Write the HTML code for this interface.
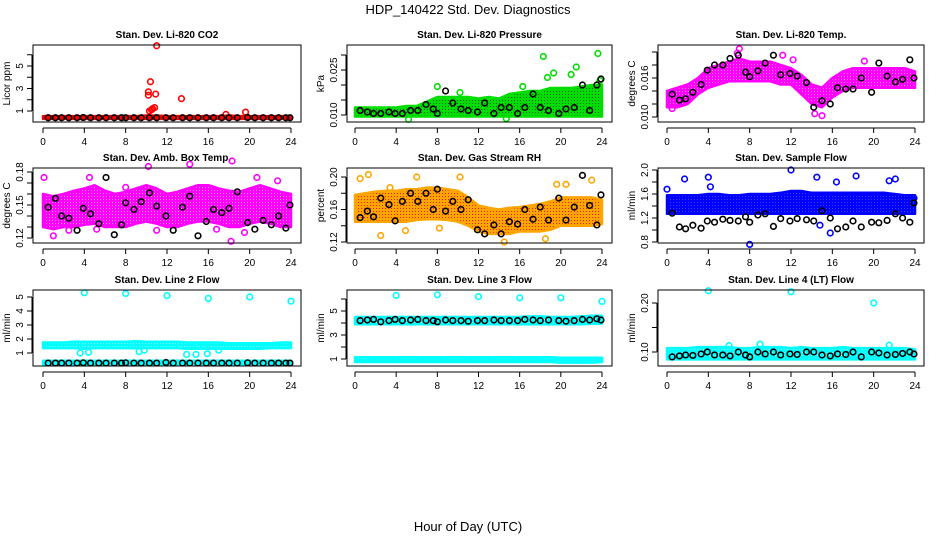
<!DOCTYPE html>
<html><head><meta charset="utf-8"><style>
html,body{margin:0;padding:0;background:#fff;}
svg{display:block;font-family:"Liberation Sans",sans-serif;}
</style></head><body>
<svg id="c" width="936" height="540" viewBox="0 0 936 540">
<text x="468" y="14" text-anchor="middle" font-size="13">HDP_140422  Std. Dev. Diagnostics</text>
<text x="468" y="531" text-anchor="middle" font-size="13">Hour of Day (UTC)</text>
</svg>
<script>
const hours=[0,1,2,3,4,5,6,7,8,9,10,11,12,13,14,15,16,17,18,19,20,21,22,23,24];
const xTicks=[0,4,8,12,16,20,24];
const blackX=[0.5,1.2,1.8,2.5,3.3,3.9,4.6,5.4,6.1,6.9,7.6,8.0,8.8,9.5,10.3,11.0,11.9,12.6,13.5,14.2,15.0,15.8,16.5,17.3,18.0,18.8,19.8,20.5,21.3,22.1,22.8,23.5,23.9];

// CO2
const co2Lo=[0.3,0.3,0.3,0.3,0.3,0.3,0.3,0.3,0.3,0.3,0.3,0.3,0.3,0.3,0.3,0.3,0.3,0.3,0.3,0.3,0.3,0.3,0.3,0.3,0.3];
const co2Hi=[0.55,0.55,0.55,0.55,0.55,0.55,0.55,0.55,0.55,0.55,0.6,0.6,0.55,0.55,0.55,0.55,0.55,0.55,0.6,0.55,0.55,0.55,0.55,0.55,0.55];
const co2OutX=[10.3,10.5,10.6,10.8,10.2,10.2,10.4,10.9,11.0,13.4,17.7,19.6];
const co2OutY=[1.0,1.1,1.2,1.3,2.4,2.7,3.6,2.5,6.8,2.1,0.7,0.9];
const co2Black=[0.4,0.4,0.4,0.4,0.4,0.42,0.4,0.4,0.4,0.4,0.4,0.4,0.4,0.4,0.4,0.4,0.4,0.4,0.4,0.4,0.4,0.4,0.4,0.4,0.4,0.4,0.42,0.4,0.4,0.4,0.4,0.4,0.4];
const co2YTicks=[1,2,3,4,5,6]; const co2YLabels=["1","","3","","5",""];

// Pressure
const prLo=[0.0095,0.0095,0.0095,0.0095,0.0095,0.0095,0.0095,0.0095,0.0095,0.0095,0.0095,0.0095,0.0095,0.0095,0.0095,0.0095,0.0095,0.0095,0.0095,0.0095,0.0095,0.0095,0.0095,0.0095,0.0095];
const prHi=[0.0125,0.0125,0.0125,0.0125,0.0125,0.013,0.013,0.0145,0.016,0.016,0.016,0.016,0.0155,0.016,0.0155,0.017,0.0175,0.018,0.018,0.019,0.019,0.019,0.0195,0.02,0.02];
const prOutX=[8,10.2,16.3,18.3,18.7,19.3,21,21.5,23.6,23.8,5.2,14.7];
const prOutY=[0.0195,0.0175,0.0195,0.0295,0.0225,0.024,0.0235,0.026,0.0305,0.0215,0.0085,0.0088];
const prBlack=[0.0115,0.011,0.0105,0.0105,0.011,0.0105,0.0105,0.0115,0.0115,0.0135,0.012,0.0105,0.018,0.014,0.012,0.0115,0.011,0.014,0.0105,0.0125,0.0125,0.0105,0.0125,0.017,0.0125,0.0115,0.0105,0.012,0.0125,0.020,0.0115,0.020,0.022];
const prYTicks=[0.010,0.015,0.020,0.025,0.030]; const prYLabels=["0.010","","","0.025",""];

// Li-820 Temp
const ltLo=[0.0115,0.0115,0.012,0.0135,0.0145,0.015,0.0155,0.0155,0.0155,0.0155,0.0155,0.015,0.015,0.0135,0.012,0.0115,0.013,0.014,0.0145,0.0145,0.0145,0.0145,0.0145,0.0145,0.0145];
const ltHi=[0.014,0.0145,0.015,0.016,0.0175,0.018,0.0185,0.019,0.0185,0.0185,0.0185,0.018,0.0175,0.0165,0.015,0.0145,0.016,0.017,0.0175,0.0175,0.0175,0.0175,0.0175,0.0175,0.017];
const ltOutX=[7,11.2,19.1,15,14.3,0.5,6.8,12.2];
const ltOutY=[0.0205,0.0195,0.0186,0.0102,0.0105,0.0113,0.0198,0.0188];
const ltBlack=[0.0135,0.0126,0.0128,0.0138,0.015,0.0172,0.018,0.018,0.019,0.0195,0.0169,0.0162,0.0171,0.0183,0.0195,0.0165,0.0167,0.0163,0.0153,0.0115,0.0125,0.012,0.0145,0.0143,0.0143,0.016,0.0138,0.0183,0.0163,0.0154,0.0158,0.0188,0.016];
const ltYTicks=[0.010,0.012,0.014,0.016,0.018,0.020]; const ltYLabels=["0.010","","","0.016","",""];

// Amb box temp
const abLo=[0.13,0.128,0.13,0.13,0.132,0.133,0.13,0.13,0.13,0.133,0.135,0.133,0.13,0.13,0.133,0.135,0.135,0.133,0.13,0.13,0.133,0.135,0.133,0.13,0.13];
const abHi=[0.16,0.158,0.16,0.163,0.165,0.168,0.163,0.16,0.162,0.165,0.168,0.165,0.16,0.162,0.165,0.168,0.168,0.165,0.163,0.162,0.165,0.168,0.165,0.162,0.16];
const abOutX=[0.1,1,4.5,5.2,10.2,11,14.2,18.3,18.2,19.5,20.7,22.7,8,2.5,16.8];
const abOutY=[0.175,0.122,0.175,0.128,0.185,0.127,0.187,0.19,0.117,0.125,0.175,0.172,0.166,0.127,0.128];
const abBlack=[0.148,0.156,0.14,0.138,0.127,0.147,0.142,0.133,0.175,0.123,0.132,0.152,0.146,0.153,0.161,0.149,0.14,0.127,0.148,0.158,0.122,0.135,0.146,0.143,0.147,0.162,0.134,0.128,0.136,0.132,0.14,0.129,0.15];
const abYTicks=[0.12,0.13,0.14,0.15,0.16,0.17,0.18]; const abYLabels=["0.12","","","0.15","","","0.18"];

// Gas stream RH
const rhLo=[0.145,0.145,0.145,0.145,0.145,0.145,0.147,0.148,0.148,0.147,0.145,0.14,0.133,0.13,0.13,0.13,0.133,0.133,0.133,0.135,0.14,0.14,0.14,0.14,0.142];
const rhHi=[0.178,0.18,0.182,0.183,0.183,0.185,0.185,0.187,0.187,0.185,0.183,0.175,0.165,0.162,0.16,0.162,0.163,0.165,0.167,0.17,0.175,0.175,0.175,0.175,0.172];
const rhOutX=[0.5,1.3,2.5,6,10.2,14.5,18.5,19.6,20.5,23,8.2,4.9,3.4];
const rhOutY=[0.198,0.203,0.128,0.2,0.2,0.12,0.124,0.191,0.191,0.196,0.137,0.134,0.187];
const rhBlack=[0.15,0.158,0.151,0.174,0.166,0.146,0.17,0.18,0.17,0.18,0.16,0.185,0.158,0.17,0.16,0.172,0.135,0.13,0.141,0.13,0.145,0.142,0.16,0.148,0.163,0.147,0.174,0.147,0.163,0.202,0.165,0.141,0.178];
const rhYTicks=[0.12,0.14,0.16,0.18,0.20]; const rhYLabels=["0.12","","0.16","","0.20"];

// Sample flow
const sfLo=[1.27,1.27,1.27,1.27,1.27,1.27,1.27,1.27,1.27,1.27,1.27,1.27,1.27,1.27,1.27,1.27,1.27,1.27,1.27,1.27,1.27,1.27,1.27,1.27,1.27];
const sfHi=[1.58,1.58,1.58,1.58,1.6,1.6,1.58,1.58,1.6,1.6,1.6,1.62,1.65,1.65,1.62,1.62,1.62,1.62,1.62,1.62,1.62,1.62,1.6,1.58,1.58];
const sfOutX=[1.7,4,8,12,14.5,15.8,16.4,18.3,21.5,22.1,14.8,0,4.2,23.9];
const sfOutY=[1.85,1.88,0.76,2.0,1.88,0.95,1.8,1.9,1.82,1.85,1.08,1.68,1.72,1.53];
const sfBlack=[1.28,1.05,1.02,1.08,1.03,1.15,1.13,1.18,1.16,1.15,1.22,1.13,1.25,1.27,1.06,1.19,1.15,1.19,1.17,1.15,1.32,1.2,1.02,1.05,1.15,1.05,1.13,1.12,1.16,1.27,1.2,1.13,1.45];
const sfYTicks=[0.8,1.0,1.2,1.4,1.6,1.8,2.0]; const sfYLabels=["0.8","","1.2","","1.6","","2.0"];

// Line 2 flow
const l2Lo=[1.35,1.35,1.35,1.35,1.3,1.35,1.35,1.35,1.35,1.35,1.35,1.35,1.35,1.35,1.3,1.3,1.3,1.3,1.3,1.3,1.3,1.3,1.35,1.35,1.35];
const l2Hi=[1.75,1.75,1.75,1.8,1.8,1.8,1.8,1.8,1.8,1.85,1.8,1.8,1.8,1.8,1.75,1.75,1.75,1.75,1.7,1.7,1.7,1.7,1.7,1.75,1.75];
const l2Lo2=[0.2,0.2,0.2,0.2,0.2,0.2,0.2,0.2,0.2,0.2,0.2,0.2,0.2,0.2,0.2,0.2,0.2,0.2,0.2,0.2,0.2,0.2,0.2,0.2,0.2];
const l2Hi2=[0.45,0.45,0.45,0.45,0.45,0.45,0.45,0.45,0.45,0.45,0.45,0.45,0.45,0.45,0.45,0.45,0.45,0.45,0.45,0.45,0.45,0.45,0.45,0.45,0.45];
const l2OutX=[4,8,12,16,20,24,3.6,4.4,9.8,13.9,14.8,15.9,17,9.3];
const l2OutY=[5.3,5.25,5.1,4.9,5.0,4.7,1.0,1.05,1.2,0.9,0.9,0.95,1.2,1.1];
const l2Black=[0.28,0.28,0.28,0.28,0.28,0.3,0.28,0.28,0.28,0.28,0.28,0.3,0.28,0.28,0.28,0.28,0.32,0.28,0.28,0.28,0.28,0.28,0.28,0.28,0.28,0.28,0.3,0.28,0.28,0.28,0.28,0.28,0.28];
const l2YTicks=[1,2,3,4,5]; const l2YLabels=["1","2","3","4","5"];

// Line 3 flow
const l3Lo=[3.9,3.9,3.9,3.9,3.9,3.9,3.9,3.9,3.9,3.9,3.9,3.9,3.9,3.9,3.9,3.9,3.9,3.9,3.9,3.9,3.9,3.9,3.9,3.95,3.95];
const l3Hi=[4.5,4.5,4.5,4.5,4.5,4.5,4.5,4.5,4.5,4.5,4.5,4.5,4.5,4.5,4.5,4.5,4.5,4.55,4.55,4.5,4.5,4.5,4.55,4.6,4.6];
const l3Lo2=[0.75,0.75,0.75,0.75,0.75,0.75,0.75,0.75,0.75,0.75,0.75,0.75,0.75,0.75,0.75,0.75,0.75,0.75,0.75,0.75,0.7,0.7,0.7,0.7,0.75];
const l3Hi2=[1.15,1.15,1.15,1.15,1.15,1.15,1.15,1.15,1.15,1.15,1.15,1.15,1.15,1.15,1.15,1.15,1.15,1.15,1.15,1.15,1.1,1.1,1.1,1.1,1.1];
const l3OutX=[4,8,12,16,20,24];
const l3OutY=[6.3,6.35,6.2,6.1,6.1,5.8];
const l3Black=[4.2,4.25,4.3,4.1,4.2,4.3,4.2,4.25,4.3,4.2,4.2,4.1,4.25,4.2,4.2,4.15,4.2,4.2,4.25,4.2,4.2,4.2,4.3,4.25,4.2,4.25,4.2,4.15,4.2,4.3,4.25,4.35,4.25];
const l3YTicks=[1,2,3,4,5,6]; const l3YLabels=["1","","3","","5",""];

// Line 4 flow
const l4Lo=[0.085,0.085,0.085,0.085,0.085,0.085,0.085,0.085,0.085,0.085,0.085,0.085,0.085,0.085,0.085,0.085,0.085,0.085,0.085,0.085,0.085,0.085,0.085,0.085,0.085];
const l4Hi=[0.108,0.108,0.108,0.11,0.11,0.11,0.11,0.108,0.108,0.11,0.11,0.11,0.108,0.11,0.108,0.108,0.108,0.11,0.108,0.108,0.108,0.108,0.108,0.108,0.105];
const l4OutX=[4,12,20,21.5,9,6];
const l4OutY=[0.225,0.223,0.2,0.114,0.116,0.113];
const l4Black=[0.09,0.092,0.094,0.093,0.096,0.1,0.094,0.094,0.092,0.1,0.094,0.09,0.1,0.096,0.1,0.094,0.096,0.095,0.1,0.1,0.094,0.092,0.096,0.095,0.1,0.09,0.1,0.098,0.094,0.095,0.097,0.1,0.096];
const l4YTicks=[0.10,0.15,0.20]; const l4YLabels=["0.10","","0.20"];

const NS="http://www.w3.org/2000/svg";
const svg=document.getElementById('c');
function mk(tag,attrs,parent){const e=document.createElementNS(NS,tag);for(const k in attrs)e.setAttribute(k,attrs[k]);(parent||svg).appendChild(e);return e;}

const cols=[{bl:33,br:301,x0:43,x24:291},{bl:347,br:612,x0:355,x24:602},{bl:658,br:924,x0:667,x24:915}];
const rows=[{top:45,bot:122},{top:168,bot:243},{top:290,bot:366}];

const panels=[
 {key:'co2',title:'Stan. Dev. Li-820 CO2',ylab:'Licor ppm',c:0,r:0,ya:[1,111,5,66],color:'#ff0000',dot:'#ff6060',lo:co2Lo,hi:co2Hi,ox:co2OutX,oy:co2OutY,bk:co2Black,yt:co2YTicks,yl:co2YLabels},
 {key:'pressure',title:'Stan. Dev. Li-820 Pressure',ylab:'kPa',c:1,r:0,ya:[0.010,115,0.025,70],color:'#00dd00',dot:'#006600',lo:prLo,hi:prHi,ox:prOutX,oy:prOutY,bk:prBlack,yt:prYTicks,yl:prYLabels},
 {key:'li820-temp',title:'Stan. Dev. Li-820 Temp.',ylab:'degrees C',c:2,r:0,ya:[0.010,117,0.016,78],color:'#ff00ff',dot:'#ff80ff',lo:ltLo,hi:ltHi,ox:ltOutX,oy:ltOutY,bk:ltBlack,yt:ltYTicks,yl:ltYLabels},
 {key:'amb-box-temp',title:'Stan. Dev. Amb. Box Temp.',ylab:'degrees C',c:0,r:1,ya:[0.12,238,0.18,172],color:'#ff00ff',dot:'#ff90ff',lo:abLo,hi:abHi,ox:abOutX,oy:abOutY,bk:abBlack,yt:abYTicks,yl:abYLabels},
 {key:'gas-stream-rh',title:'Stan. Dev. Gas Stream RH',ylab:'percent',c:1,r:1,ya:[0.12,242,0.20,177],color:'#ffa500',dot:'#ee2200',lo:rhLo,hi:rhHi,ox:rhOutX,oy:rhOutY,bk:rhBlack,yt:rhYTicks,yl:rhYLabels},
 {key:'sample-flow',title:'Stan. Dev. Sample Flow',ylab:'ml/min',c:2,r:1,ya:[0.8,242,2.0,170],color:'#0000ff',dot:'#4040ff',lo:sfLo,hi:sfHi,ox:sfOutX,oy:sfOutY,bk:sfBlack,yt:sfYTicks,yl:sfYLabels},
 {key:'line2-flow',title:'Stan. Dev. Line 2 Flow',ylab:'ml/min',c:0,r:2,ya:[1,353,5,297],color:'#00ffff',dot:'#80ffff',lo:l2Lo,hi:l2Hi,lo2:l2Lo2,hi2:l2Hi2,ox:l2OutX,oy:l2OutY,bk:l2Black,yt:l2YTicks,yl:l2YLabels},
 {key:'line3-flow',title:'Stan. Dev. Line 3 Flow',ylab:'ml/min',c:1,r:2,ya:[1,359,5,311],color:'#00ffff',dot:'#80ffff',lo:l3Lo,hi:l3Hi,lo2:l3Lo2,hi2:l3Hi2,ox:l3OutX,oy:l3OutY,bk:l3Black,yt:l3YTicks,yl:l3YLabels},
 {key:'line4-flow',title:'Stan. Dev. Line 4 (LT) Flow',ylab:'ml/min',c:2,r:2,ya:[0.10,352,0.20,303],color:'#00ffff',dot:'#80ffff',lo:l4Lo,hi:l4Hi,ox:l4OutX,oy:l4OutY,bk:l4Black,yt:l4YTicks,yl:l4YLabels}
];

const defs=mk('defs',{});
panels.forEach(p=>{
 const C=cols[p.c],R=rows[p.r];
 const xs=h=>C.x0+(C.x24-C.x0)*h/24;
 const ys=v=>p.ya[1]+(v-p.ya[0])*(p.ya[3]-p.ya[1])/(p.ya[2]-p.ya[0]);
 const g=mk('g',{});
 
 
 const pat=mk('pattern',{id:'pat-'+p.key,width:3,height:3,patternUnits:'userSpaceOnUse'},defs);
 mk('rect',{width:3,height:3,fill:p.color},pat);
 mk('rect',{x:1,y:1,width:1,height:1,fill:p.dot},pat);
 const t=mk('text',{x:(C.bl+C.br)/2,y:R.top-7,'text-anchor':'middle','font-size':10,'font-weight':'bold'},g);
 t.textContent=p.title;
 
 
 const band=(lo,hi,nm)=>{
  let d='M'+hours.map((h,i)=>xs(h)+','+ys(hi[i])).join('L');
  d+='L'+hours.slice().reverse().map((h,j)=>{const i=hours.length-1-j;return xs(h)+','+ys(lo[i]);}).join('L')+'Z';
  const b=mk('path',{d:d,fill:'url(#pat-'+p.key+')',stroke:p.color,'stroke-width':2.5,'stroke-linejoin':'round'},g);
  
  
 };
 band(p.lo,p.hi,p.key+'-band');
 if(p.lo2) band(p.lo2,p.hi2,p.key+'-lower-band');
 p.ox.forEach((x,i)=>{
  const c=mk('circle',{cx:xs(x),cy:ys(p.oy[i]),r:2.8,fill:'none',stroke:p.color,'stroke-width':1.6},g);
  
  
 });
 blackX.forEach((x,i)=>{
  const c=mk('circle',{cx:xs(x),cy:ys(p.bk[i]),r:2.8,fill:'none',stroke:'#000','stroke-width':1.6},g);
  
  
 });
 const box=mk('rect',{x:C.bl,y:R.top,width:C.br-C.bl,height:R.bot-R.top,fill:'none',stroke:'#000','stroke-width':1},g);
 
 
 const ay=R.bot+6;
 mk('line',{x1:xs(0),x2:xs(24),y1:ay,y2:ay,stroke:'#000'},g);
 xTicks.forEach(v=>{
  mk('line',{x1:xs(v),x2:xs(v),y1:ay,y2:ay+5,stroke:'#000'},g);
  const l=mk('text',{x:xs(v),y:ay+17,'text-anchor':'middle','font-size':10},g);
  l.textContent=v;
  
  
 });
 const ax=C.bl-1;
 mk('line',{x1:ax,x2:ax,y1:ys(p.yt[0]),y2:ys(p.yt[p.yt.length-1]),stroke:'#000'},g);
 p.yt.forEach((v,i)=>{
  const y=ys(v);
  mk('line',{x1:ax-5,x2:ax,y1:y,y2:y,stroke:'#000'},g);
  if(p.yl[i]){
   const l=mk('text',{x:0,y:0,'text-anchor':'middle','font-size':10,transform:'translate('+(ax-9)+','+y+') rotate(-90)'},g);
   l.textContent=p.yl[i];
   
   
  }
 });
 const yl=mk('text',{x:0,y:0,'text-anchor':'middle','font-size':10,transform:'translate('+(ax-22)+','+((R.top+R.bot)/2)+') rotate(-90)'},g);
 yl.textContent=p.ylab;
 
 
});
</script>
</body></html>
